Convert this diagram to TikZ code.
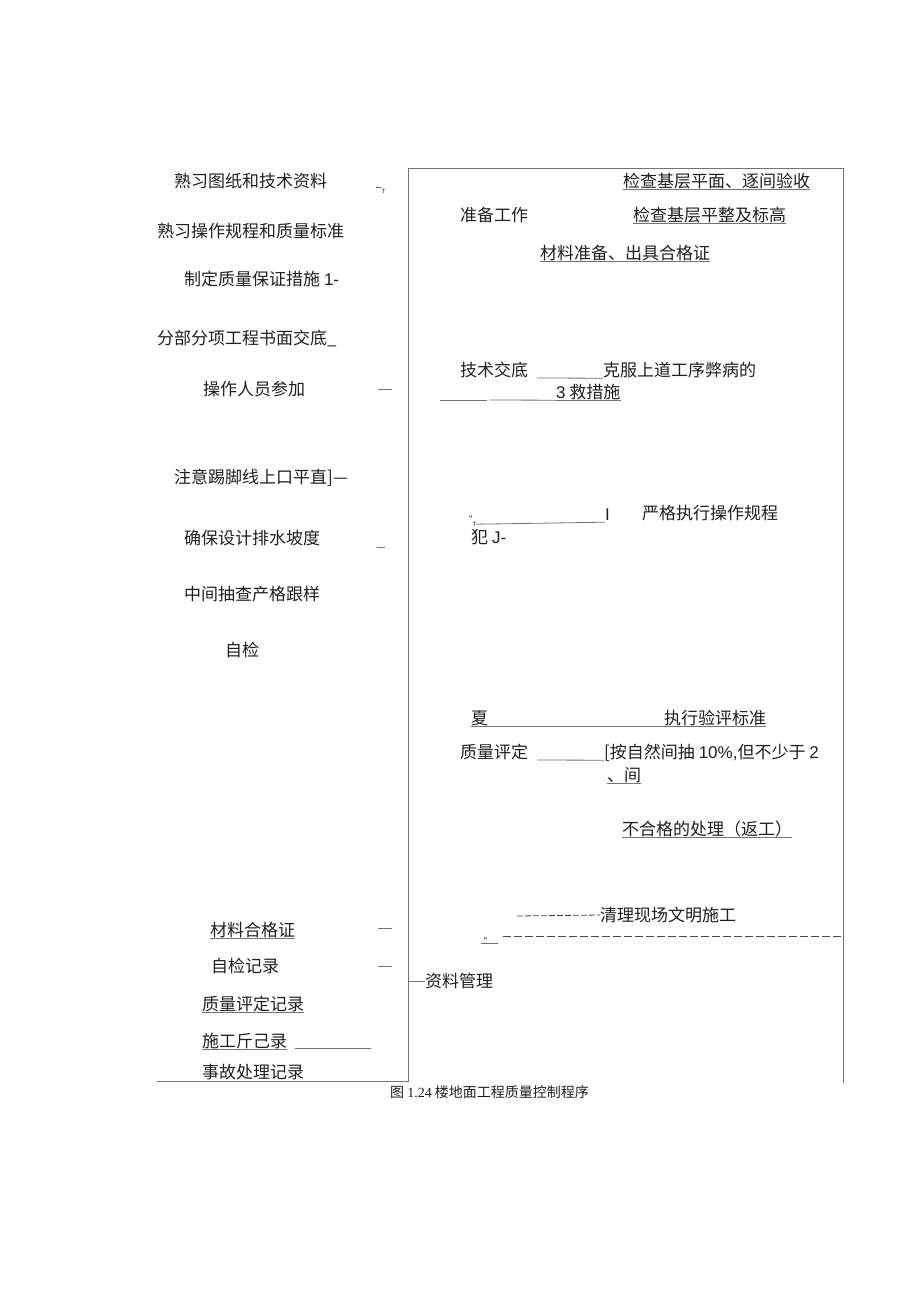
\documentclass[tikz,border=0pt]{standalone}
\usepackage{fontspec}
\setmainfont{Liberation Sans}
\newfontfamily\cjk{Noto Sans CJK SC}
\newfontfamily\capserif{Liberation Serif}

\tikzset{
	txt/.style={anchor=west, inner sep=0pt, text height=14.5pt, text depth=1.5pt,
		font=\cjk\fontsize{17}{19}\selectfont, text=black!88},
	rule/.style={draw=black!55, line width=0.8pt},
}

\begin{document}
\begin{tikzpicture}[x=1pt, y=-1pt]
		\useasboundingbox (0,0) rectangle (920,1301);
		
		%Rahmen
		\draw[rule] (157,1081) -- (408,1081) -- (408,168) -- (843,168) -- (843,1083);
		
		%linke Spalte
		\node[txt] (l1) at (174,181) {熟习图纸和技术资料};
		\node[txt] (l1m) at (376,184) {{\rmfamily\fontsize{10}{10}\selectfont –\raisebox{-3pt}{\fontsize{6}{6}\selectfont T}}};
		\node[txt] (l2) at (157,231) {熟习操作规程和质量标准};
		\node[txt] (l3) at (184,279) {制定质量保证措施 {\rmfamily 1-}};
		\node[txt] (l4) at (157,338) {分部分项工程书面交底\_};
		\node[txt] (l5) at (203,389) {操作人员参加};
		\node[txt] (l6) at (174,477) {注意踢脚线上口平直]—};
		\node[txt] (l7) at (184,538) {确保设计排水坡度};
		\node[txt] (l8) at (184,594) {中间抽查产格跟样};
		\node[txt] (l9) at (225,650) {自检};
		
		\node[txt] (l10) at (210,930) {材料合格证};
		\node[txt] (l11) at (211,966) {自检记录};
		\node[txt] (l12) at (202,1004) {质量评定记录};
		\node[txt] (l13) at (202,1041) {施工斤己录};
		\node[txt] (l14) at (202,1072) {事故处理记录};
		
		\foreach \y in {389,928,966} {
			\draw[rule] (378,\y) -- (392,\y);
		}
		\draw[rule] (377,547) -- (385,547);
		\draw[rule] (295,1048) -- (371,1048);
		
		%rechte Seite
		\node[txt] (r1) at (623,181) {检查基层平面、逐间验收};
		\node[txt] (r2) at (460,215) {准备工作};
		\node[txt] (r3) at (633,215) {检查基层平整及标高};
		\node[txt] (r4) at (540,253) {材料准备、出具合格证};
		
		\node[txt] (r5) at (460,370) {技术交底};
		\node[txt] (r6) at (603,370) {克服上道工序弊病的};
		\draw[rule] (537,378) -- (r6.south west);
		\node[txt] (r7) at (556,392) {{\rmfamily 3} 救措施};
		\draw[rule] (440,400) -- (487,400);
		\draw[rule] (490,400) -- (r7.south west);
		
		\node[txt] (r8) at (469,516) {{\rmfamily\fontsize{10}{10}\selectfont “\raisebox{-4pt}{\fontsize{6}{6}\selectfont T}}};
		\node[txt] (r8i) at (605,514) {\rmfamily I};
		\draw[rule] (r8.south east) -- (r8i.south west);
		\node[txt] (r9) at (642,513) {严格执行操作规程};
		\node[txt] (r10) at (471,537) {犯 {\rmfamily J-}};
		
		\node[txt] (r11) at (471,718) {夏};
		\node[txt] (r12) at (664,718) {执行验评标准};
		\draw[rule] (r11.south west) -- (r12.south east);
		\node[txt] (r13) at (460,752) {质量评定};
		\node[txt] (r14) at (604,752) {[按自然间抽 {\rmfamily 10\%,}但不少于 {\rmfamily 2}};
		\draw[rule] (537,760) -- (r14.south west);
		\node[txt] (r15) at (607,775) {、间};
		\node[txt] (r16) at (622,829) {不合格的处理（返工）};
		
		\foreach \n in {r1,r3,r4,r7,r15,r16,l10,l12,l13} {
			\draw[rule] (\n.south west) -- (\n.south east);
		}
		
		%Abschluss
		\node[txt] (r17) at (600,915) {清理现场文明施工};
		\draw[rule, draw=black!75, dash pattern=on 6pt off 2pt] (517,916) -- (r17.west);
		\node[inner sep=0pt, font=\cjk\fontsize{9}{9}\selectfont] (r18) at (488,939) {。};
		\draw[rule] (481,943) -- (498,943);
		\draw[rule, draw=black!70, dash pattern=on 8pt off 3pt] (503,936) -- (843,936);
		\node[txt] (r19) at (425,981) {资料管理};
		\draw[rule] (408,981) -- (r19.west);
		
		\node[txt, font=\cjk\fontsize{14}{16}\selectfont, text height=12pt, text depth=1.5pt] (cap) at (390,1092) {图 {\capserif 1.24} 楼地面工程质量控制程序};
	\end{tikzpicture}
\end{document}
